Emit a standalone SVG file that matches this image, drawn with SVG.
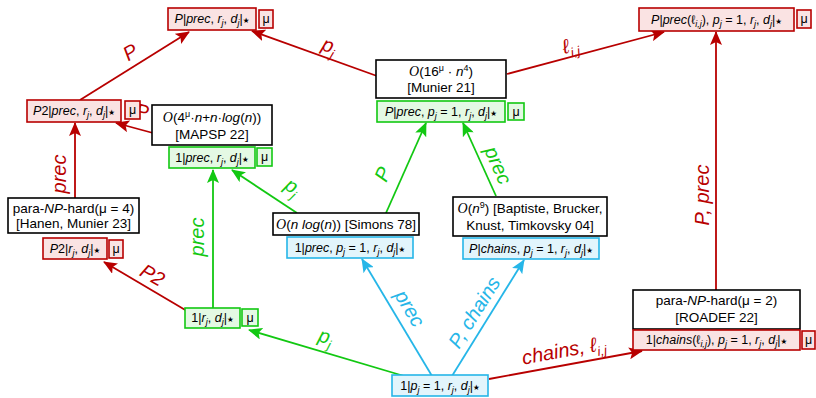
<svg xmlns="http://www.w3.org/2000/svg" width="816" height="398" viewBox="0 0 816 398">
<style>
.t{font-family:"Liberation Sans","DejaVu Sans",sans-serif;font-size:12.5px;fill:#000;text-anchor:middle}
.b{font-size:13.5px}
.i{font-style:italic}
.s{font-style:italic;font-size:9px}
.u{font-size:9px}
.st{font-family:"DejaVu Sans",sans-serif;font-size:7.5px}
.o{font-family:"Liberation Serif","DejaVu Serif",serif;font-style:italic;font-size:14px}
.rb{fill:#fae3e3;stroke:#b80000;stroke-width:1.6}
.gb{fill:#e4f9e4;stroke:#12c812;stroke-width:1.6}
.bb{fill:#e2f5fc;stroke:#26b6e8;stroke-width:1.6}
.kb{fill:#fff;stroke:#000;stroke-width:1.6}
.er{stroke:#b80000;stroke-width:1.8;fill:none;marker-end:url(#ar)}
.eg{stroke:#12c812;stroke-width:1.8;fill:none;marker-end:url(#ag)}
.eb{stroke:#26b6e8;stroke-width:1.8;fill:none;marker-end:url(#ab)}
.l{font-family:"Liberation Sans","DejaVu Sans",sans-serif;font-size:20px;font-style:italic;text-anchor:middle}
.lr{fill:#b80000}.lg{fill:#12c812}.lb{fill:#26b6e8}
.ls{font-size:13px}
</style>
<defs>
<marker id="ar" markerUnits="userSpaceOnUse" markerWidth="14" markerHeight="12" refX="13" refY="6" orient="auto"><path d="M0,0 L14,6 L0,12 L3,6 z" fill="#b80000"/></marker>
<marker id="ag" markerUnits="userSpaceOnUse" markerWidth="14" markerHeight="12" refX="13" refY="6" orient="auto"><path d="M0,0 L14,6 L0,12 L3,6 z" fill="#12c812"/></marker>
<marker id="ab" markerUnits="userSpaceOnUse" markerWidth="14" markerHeight="12" refX="13" refY="6" orient="auto"><path d="M0,0 L14,6 L0,12 L3,6 z" fill="#26b6e8"/></marker>
</defs>

<g id="connectors">
<path class="er" d="M80,100 L189,32"/>
<path class="er" d="M377,76 L252,31"/>
<path class="er" d="M153,133 L116,123"/>
<path class="er" d="M75,198 L75,123"/>
<path class="er" d="M187,311 L104,262"/>
<path class="er" d="M489,379 L642,351"/>
<path class="er" d="M716,290 L716,32"/>
<path class="er" d="M507,74 L664,32"/>
<path class="eg" d="M213,308 L213,170"/>
<path class="eg" d="M297,213 L232,170"/>
<path class="eg" d="M386,213 L426,123"/>
<path class="eg" d="M496,196 L463,123"/>
<path class="eg" d="M404,376 L249,330"/>
<path class="eb" d="M432,376 L362,259"/>
<path class="eb" d="M452,376 L524,260"/>

<text class="l lr" transform="translate(134,58) rotate(-32)">P</text>
<text class="l lr" transform="translate(327,52) rotate(20)">p<tspan class="ls" dy="5">j</tspan></text>
<text class="l lr" transform="translate(140,118) rotate(15)">P</text>
<text class="l lr" transform="translate(66,174) rotate(-90)">prec</text>
<text class="l lr" transform="translate(149,281) rotate(30)">P2</text>
<text class="l lr" transform="translate(565,357) rotate(-10.4)">chains, ℓ<tspan class="ls" dy="5">i,j</tspan></text>
<text class="l lr" transform="translate(709,195) rotate(-90)">P, prec</text>
<text class="l lr" transform="translate(572,52) rotate(-15)">ℓ<tspan class="ls" dy="5">i,j</tspan></text>
<text class="l lg" transform="translate(204,237) rotate(-90)">prec</text>
<text class="l lg" transform="translate(289,192) rotate(33)">p<tspan class="ls" dy="5">j</tspan></text>
<text class="l lg" transform="translate(389,177) rotate(-66)">P</text>
<text class="l lg" transform="translate(492,168) rotate(66)">prec</text>
<text class="l lg" transform="translate(324,343) rotate(16)">p<tspan class="ls" dy="5">j</tspan></text>
<text class="l lb" transform="translate(404,312) rotate(59)">prec</text>
<text class="l lb" transform="translate(480,316) rotate(-58)">P, chains</text>
</g>

<g id="n-top-left">
<rect class="rb" x="168" y="8" width="88" height="22"/>
<text class="t" x="212" y="23"><tspan class="i">P</tspan>|<tspan class="i">prec</tspan>, <tspan class="i">r</tspan><tspan class="s" dy="3">j</tspan><tspan dy="-3">, </tspan><tspan class="i">d</tspan><tspan class="s" dy="3">j</tspan><tspan dy="-3">|</tspan><tspan class="st">★</tspan></text>
<rect class="rb" x="259" y="10" width="14" height="18"/>
<text class="t" x="266" y="23">μ</text>
</g>

<g id="n-top-right">
<rect class="rb" x="639" y="8" width="155" height="23"/>
<text class="t" x="716.5" y="24"><tspan class="i">P</tspan>|<tspan class="i">prec</tspan>(ℓ<tspan class="s" dy="3">i,j</tspan><tspan dy="-3">), </tspan><tspan class="i">p</tspan><tspan class="s" dy="3">j</tspan><tspan dy="-3"> = 1, </tspan><tspan class="i">r</tspan><tspan class="s" dy="3">j</tspan><tspan dy="-3">, </tspan><tspan class="i">d</tspan><tspan class="s" dy="3">j</tspan><tspan dy="-3">|</tspan><tspan class="st">★</tspan></text>
<rect class="rb" x="797" y="10" width="14" height="18"/>
<text class="t" x="804" y="23">μ</text>
</g>

<g id="n-munier">
<rect class="kb" x="376" y="60" width="130" height="38"/>
<text class="t b" x="441" y="76"><tspan class="o">O</tspan>(16<tspan class="u" dy="-5">μ</tspan><tspan dy="5"> · </tspan><tspan class="i">n</tspan><tspan class="u" dy="-5">4</tspan><tspan dy="5">)</tspan></text>
<text class="t b" x="441" y="92">[Munier 21]</text>
<rect class="gb" x="377" y="101" width="128" height="21"/>
<text class="t" x="441" y="116"><tspan class="i">P</tspan>|<tspan class="i">prec</tspan>, <tspan class="i">p</tspan><tspan class="s" dy="3">j</tspan><tspan dy="-3"> = 1, </tspan><tspan class="i">r</tspan><tspan class="s" dy="3">j</tspan><tspan dy="-3">, </tspan><tspan class="i">d</tspan><tspan class="s" dy="3">j</tspan><tspan dy="-3">|</tspan><tspan class="st">★</tspan></text>
<rect class="gb" x="508" y="103" width="16" height="17"/>
<text class="t" x="516" y="116">μ</text>
</g>

<g id="n-p2prec">
<rect class="rb" x="27" y="100" width="94" height="22"/>
<text class="t" x="74" y="115"><tspan class="i">P</tspan>2|<tspan class="i">prec</tspan>, <tspan class="i">r</tspan><tspan class="s" dy="3">j</tspan><tspan dy="-3">, </tspan><tspan class="i">d</tspan><tspan class="s" dy="3">j</tspan><tspan dy="-3">|</tspan><tspan class="st">★</tspan></text>
<rect class="rb" x="125" y="101" width="15" height="18"/>
<text class="t" x="132.5" y="114">μ</text>
</g>

<g id="n-mapsp">
<rect class="kb" x="152" y="105" width="120" height="40"/>
<text class="t b" x="212" y="122"><tspan class="o">O</tspan>(4<tspan class="u" dy="-5">μ</tspan><tspan dy="5">·</tspan><tspan class="i">n</tspan>+<tspan class="i">n</tspan>·<tspan class="i">log</tspan>(<tspan class="i">n</tspan>))</text>
<text class="t b" x="212" y="139">[MAPSP 22]</text>
<rect class="gb" x="169" y="147" width="86" height="21"/>
<text class="t" x="212" y="162">1|<tspan class="i">prec</tspan>, <tspan class="i">r</tspan><tspan class="s" dy="3">j</tspan><tspan dy="-3">, </tspan><tspan class="i">d</tspan><tspan class="s" dy="3">j</tspan><tspan dy="-3">|</tspan><tspan class="st">★</tspan></text>
<rect class="gb" x="257" y="148" width="15" height="18"/>
<text class="t" x="264.5" y="161">μ</text>
</g>

<g id="n-hanen">
<rect class="kb" x="8" y="198" width="131" height="35"/>
<text class="t b" x="73.5" y="213">para-<tspan class="i">NP</tspan>-hard(μ = 4)</text>
<text class="t b" x="73.5" y="228">[Hanen, Munier 23]</text>
<rect class="rb" x="43" y="238" width="64" height="21"/>
<text class="t" x="75" y="253"><tspan class="i">P</tspan>2|<tspan class="i">r</tspan><tspan class="s" dy="3">j</tspan><tspan dy="-3">, </tspan><tspan class="i">d</tspan><tspan class="s" dy="3">j</tspan><tspan dy="-3">|</tspan><tspan class="st">★</tspan></text>
<rect class="rb" x="109" y="240" width="14" height="18"/>
<text class="t" x="116" y="253">μ</text>
</g>

<g id="n-simons">
<rect class="kb" x="273" y="213" width="146" height="22"/>
<text class="t b" x="346" y="229"><tspan class="o">O</tspan>(<tspan class="i">n log</tspan>(<tspan class="i">n</tspan>)) [Simons 78]</text>
<rect class="bb" x="287" y="237" width="126" height="21"/>
<text class="t" x="350" y="252">1|<tspan class="i">prec</tspan>, <tspan class="i">p</tspan><tspan class="s" dy="3">j</tspan><tspan dy="-3"> = 1, </tspan><tspan class="i">r</tspan><tspan class="s" dy="3">j</tspan><tspan dy="-3">, </tspan><tspan class="i">d</tspan><tspan class="s" dy="3">j</tspan><tspan dy="-3">|</tspan><tspan class="st">★</tspan></text>
</g>

<g id="n-baptiste">
<rect class="kb" x="453" y="197" width="154" height="39"/>
<text class="t b" x="530" y="213"><tspan class="o">O</tspan>(<tspan class="i">n</tspan><tspan class="u" dy="-5">9</tspan><tspan dy="5">) [Baptiste, Brucker,</tspan></text>
<text class="t b" x="530" y="230">Knust, Timkovsky 04]</text>
<rect class="bb" x="463" y="238" width="136" height="21"/>
<text class="t" x="531" y="253"><tspan class="i">P</tspan>|<tspan class="i">chains</tspan>, <tspan class="i">p</tspan><tspan class="s" dy="3">j</tspan><tspan dy="-3"> = 1, </tspan><tspan class="i">r</tspan><tspan class="s" dy="3">j</tspan><tspan dy="-3">, </tspan><tspan class="i">d</tspan><tspan class="s" dy="3">j</tspan><tspan dy="-3">|</tspan><tspan class="st">★</tspan></text>
</g>

<g id="n-1rd">
<rect class="gb" x="185" y="308" width="55" height="20"/>
<text class="t" x="212.5" y="322">1|<tspan class="i">r</tspan><tspan class="s" dy="3">j</tspan><tspan dy="-3">, </tspan><tspan class="i">d</tspan><tspan class="s" dy="3">j</tspan><tspan dy="-3">|</tspan><tspan class="st">★</tspan></text>
<rect class="gb" x="242" y="309" width="16" height="17"/>
<text class="t" x="250" y="322">μ</text>
</g>

<g id="n-1pj">
<rect class="bb" x="392" y="375" width="96" height="21"/>
<text class="t" x="440" y="390">1|<tspan class="i">p</tspan><tspan class="s" dy="3">j</tspan><tspan dy="-3"> = 1, </tspan><tspan class="i">r</tspan><tspan class="s" dy="3">j</tspan><tspan dy="-3">, </tspan><tspan class="i">d</tspan><tspan class="s" dy="3">j</tspan><tspan dy="-3">|</tspan><tspan class="st">★</tspan></text>
</g>

<g id="n-roadef">
<rect class="kb" x="633" y="290" width="167" height="39"/>
<text class="t b" x="716.5" y="305">para-<tspan class="i">NP</tspan>-hard(μ = 2)</text>
<text class="t b" x="716.5" y="322">[ROADEF 22]</text>
<rect class="rb" x="633" y="330" width="167" height="20"/>
<text class="t" x="716.5" y="344">1|<tspan class="i">chains</tspan>(ℓ<tspan class="s" dy="3">i,j</tspan><tspan dy="-3">), </tspan><tspan class="i">p</tspan><tspan class="s" dy="3">j</tspan><tspan dy="-3"> = 1, </tspan><tspan class="i">r</tspan><tspan class="s" dy="3">j</tspan><tspan dy="-3">, </tspan><tspan class="i">d</tspan><tspan class="s" dy="3">j</tspan><tspan dy="-3">|</tspan><tspan class="st">★</tspan></text>
<rect class="rb" x="802" y="331" width="13" height="18"/>
<text class="t" x="808.5" y="344">μ</text>
</g>
</svg>
